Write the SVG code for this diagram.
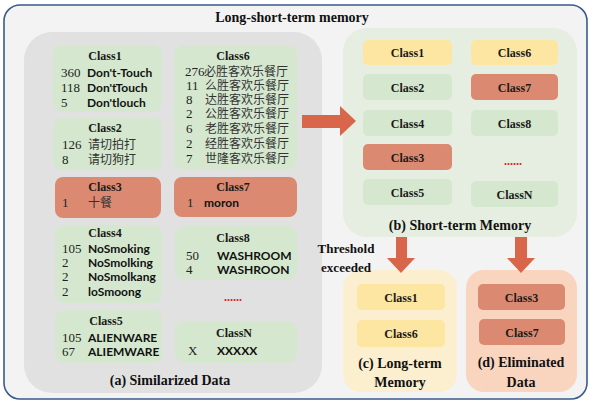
<svg xmlns="http://www.w3.org/2000/svg" width="590" height="402" viewBox="0 0 590 402">
<style>
.ttl{font-family:"Liberation Serif",serif;font-weight:bold;fill:#111;text-anchor:middle}
.cls{font-family:"Liberation Serif",serif;font-weight:bold;font-size:12px;fill:#1a1a1a;text-anchor:middle}
.num{font-family:"Liberation Serif",serif;font-size:13px;fill:#222}
.en{font-family:"Lato","Liberation Sans",sans-serif;font-weight:bold;font-size:12px;fill:#111}
.cn{font-family:"Noto Sans CJK SC",sans-serif;font-size:12px;fill:#333}
.g{fill:#d5e8cf}
.r{fill:#db8a71}
.y{fill:#fde6a2}
.arr{fill:#d9664a}
.dots{font-family:"Liberation Serif",serif;font-weight:bold;font-size:12px;fill:#d0202a;text-anchor:middle}
</style>
<rect x="4" y="5" width="583" height="394" rx="16" fill="#f3f3f3" stroke="#3a5a8c" stroke-width="1.6"/>
<text class="ttl" x="292" y="22" font-size="14">Long-short-term memory</text>

<g id="panel-a">
<rect x="24" y="32" width="298" height="361" rx="28" fill="#e1e1e1"/>
<text class="ttl" x="170" y="385" font-size="14">(a) Similarized Data</text>
</g>

<g id="a-class1">
<rect class="g" x="53" y="45" width="109" height="67" rx="9"/>
<text class="cls" x="105" y="60">Class1</text>
<text class="num" x="61" y="77">360</text><text class="en" x="87" y="77">Don't-Touch</text>
<text class="num" x="61" y="92">118</text><text class="en" x="87" y="92">Don'tTouch</text>
<text class="num" x="61" y="107">5</text><text class="en" x="87" y="107">Don'tlouch</text>
</g>
<g id="a-class2">
<rect class="g" x="53" y="118" width="109" height="52" rx="9"/>
<text class="cls" x="105" y="132">Class2</text>
<text class="num" x="62" y="149">126</text><text class="cn" x="88" y="149">请切拍打</text>
<text class="num" x="62" y="164">8</text><text class="cn" x="88" y="164">请切狗打</text>
</g>
<g id="a-class6">
<rect class="g" x="174" y="45" width="123" height="125" rx="10"/>
<text class="cls" x="233" y="60">Class6</text>
<text class="num" x="185" y="76" font-size="12">276</text><text class="cn" x="204" y="76">必胜客欢乐餐厅</text>
<text class="num" x="186" y="90">11</text><text class="cn" x="205" y="90">么胜客欢乐餐厅</text>
<text class="num" x="186" y="104">8</text><text class="cn" x="205" y="104">达胜客欢乐餐厅</text>
<text class="num" x="186" y="118">2</text><text class="cn" x="205" y="118">公胜客欢乐餐厅</text>
<text class="num" x="186" y="133">6</text><text class="cn" x="205" y="133">老胜客欢乐餐厅</text>
<text class="num" x="186" y="148">2</text><text class="cn" x="205" y="148">经胜客欢乐餐厅</text>
<text class="num" x="186" y="163">7</text><text class="cn" x="205" y="163">世隆客欢乐餐厅</text>
</g>
<g id="a-class3">
<rect class="r" x="55" y="177" width="106" height="41" rx="8"/>
<text class="cls" x="105" y="191">Class3</text>
<text class="num" x="62" y="207">1</text><text class="cn" x="88" y="207">十餐</text>
</g>
<g id="a-class7">
<rect class="r" x="174" y="177" width="123" height="40" rx="8"/>
<text class="cls" x="233" y="191">Class7</text>
<text class="num" x="187" y="207">1</text><text class="en" x="204" y="207">moron</text>
</g>
<g id="a-class4">
<rect class="g" x="55" y="225" width="107" height="78" rx="9"/>
<text class="cls" x="105" y="237">Class4</text>
<text class="num" x="62" y="253">105</text><text class="en" x="88" y="253">NoSmoking</text>
<text class="num" x="62" y="267">2</text><text class="en" x="88" y="267">NoSmolking</text>
<text class="num" x="62" y="281">2</text><text class="en" x="88" y="281">NoSmolkang</text>
<text class="num" x="62" y="296">2</text><text class="en" x="88" y="296">loSmoong</text>
</g>
<g id="a-class8">
<rect class="g" x="175" y="226" width="122" height="54" rx="9"/>
<text class="cls" x="233" y="242">Class8</text>
<text class="num" x="186" y="260">50</text><text class="en" x="217" y="260">WASHROOM</text>
<text class="num" x="186" y="274">4</text><text class="en" x="217" y="274">WASHROON</text>
</g>
<text class="dots" x="233" y="301">......</text>
<g id="a-class5">
<rect class="g" x="55" y="310" width="107" height="53" rx="9"/>
<text class="cls" x="106" y="325">Class5</text>
<text class="num" x="62" y="342">105</text><text class="en" x="88" y="342">ALIENWARE</text>
<text class="num" x="62" y="356">67</text><text class="en" x="88" y="356">ALIEMWARE</text>
</g>
<g id="a-classN">
<rect class="g" x="175" y="321" width="122" height="42" rx="9"/>
<text class="cls" x="234" y="337">ClassN</text>
<text class="num" x="188" y="355">X</text><text class="en" x="217" y="355">XXXXX</text>
</g>

<g id="panel-b">
<rect x="343" y="28" width="234" height="209" rx="24" fill="#e5eee0"/>
<text class="ttl" x="460" y="230" font-size="14">(b) Short-term Memory</text>
</g>
<g id="b-class1"><rect class="y" x="363" y="40" width="89" height="25" rx="5"/><text class="cls" x="407.5" y="57">Class1</text></g>
<g id="b-class6"><rect class="y" x="471" y="40" width="87" height="25" rx="5"/><text class="cls" x="514.5" y="57">Class6</text></g>
<g id="b-class2"><rect class="g" x="363" y="74" width="89" height="26" rx="5"/><text class="cls" x="407.5" y="92">Class2</text></g>
<g id="b-class7"><rect class="r" x="471" y="74" width="87" height="26" rx="5"/><text class="cls" x="514.5" y="92">Class7</text></g>
<g id="b-class4"><rect class="g" x="363" y="110" width="89" height="26" rx="5"/><text class="cls" x="407.5" y="128">Class4</text></g>
<g id="b-class8"><rect class="g" x="471" y="110" width="87" height="26" rx="5"/><text class="cls" x="514.5" y="128">Class8</text></g>
<g id="b-class3"><rect class="r" x="363" y="144" width="89" height="26" rx="5"/><text class="cls" x="407.5" y="162">Class3</text></g>
<text class="dots" x="513" y="165">......</text>
<g id="b-class5"><rect class="g" x="363" y="179" width="89" height="26" rx="5"/><text class="cls" x="407.5" y="197">Class5</text></g>
<g id="b-classN"><rect class="g" x="471" y="181" width="87" height="26" rx="5"/><text class="cls" x="514.5" y="199">ClassN</text></g>

<g id="panel-c">
<rect x="343" y="270" width="114" height="122" rx="18" fill="#fbefcf"/>
<text class="ttl" x="400" y="368" font-size="14">(c) Long-term</text>
<text class="ttl" x="400" y="387" font-size="14">Memory</text>
</g>
<g id="c-class1"><rect class="y" x="357" y="284" width="88" height="26" rx="5"/><text class="cls" x="401" y="302">Class1</text></g>
<g id="c-class6"><rect class="y" x="357" y="320" width="88" height="27" rx="5"/><text class="cls" x="401" y="338">Class6</text></g>

<g id="panel-d">
<rect x="466" y="270" width="111" height="122" rx="18" fill="#f9d4be"/>
<text class="ttl" x="521" y="367" font-size="14">(d) Eliminated</text>
<text class="ttl" x="521" y="387" font-size="14">Data</text>
</g>
<g id="d-class3"><rect class="r" x="478" y="284" width="87" height="26" rx="5"/><text class="cls" x="521.5" y="302">Class3</text></g>
<g id="d-class7"><rect class="r" x="479" y="319" width="86" height="26" rx="5"/><text class="cls" x="522" y="337">Class7</text></g>

<g id="connectors">
<polygon class="arr" points="302,115 340,115 340,106 356,121 340,136 340,128 302,128"/>
<polygon class="arr" points="396,237 407,237 407,258 415,258 401,273 387,258 396,258"/>
<polygon class="arr" points="515,237 527,237 527,258 535,258 521,273 507,258 515,258"/>
<text class="ttl" x="346" y="253" font-size="13">Threshold</text>
<text class="ttl" x="346" y="272" font-size="13">exceeded</text>
</g>
</svg>
